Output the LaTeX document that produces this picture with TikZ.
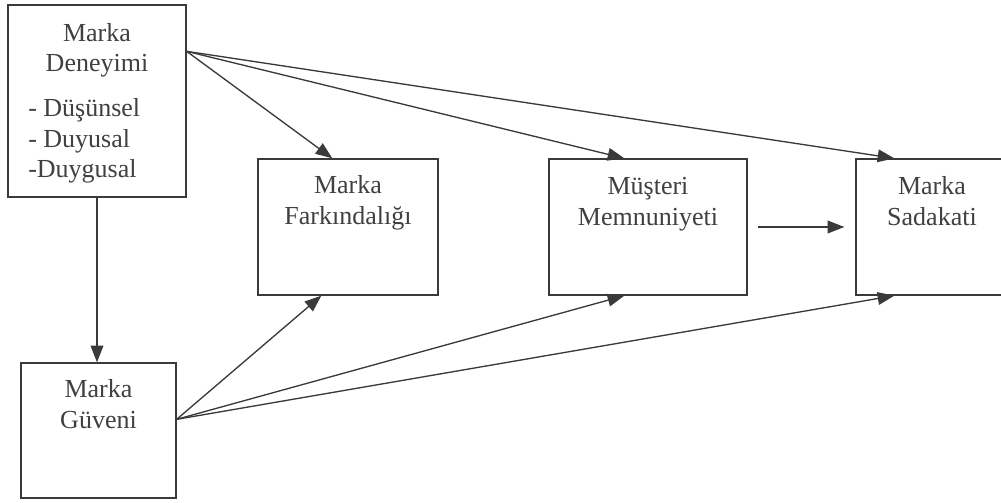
\documentclass[tikz,border=0pt]{standalone}
\usepackage{fontspec}
\setmainfont{Liberation Serif}
\usetikzlibrary{arrows.meta,calc}
\definecolor{ln}{HTML}{3A3A3A}
\definecolor{tx}{HTML}{404040}
\begin{document}
\begin{tikzpicture}[x=0.75pt,y=-0.75pt,
  box/.style={draw=ln, line width=1pt, inner sep=0pt},
  txt/.style={text=tx, align=center, inner sep=0pt, font=\fontsize{19.5pt}{23pt}\selectfont},
  arr/.style={draw=ln, line width=1pt, -{Triangle[length=12.5pt,width=9.5pt]}}]
\useasboundingbox[fill=white] (0,0) rectangle (1001,503);
\node[box, minimum width=133.5pt, minimum height=144pt] (den) at (97,101) {};
\node[box, minimum width=116.25pt, minimum height=101.25pt] (guv) at (98.5,430.5) {};
\node[box, minimum width=135pt, minimum height=102pt] (far) at (348,227) {};
\node[box, minimum width=148.5pt, minimum height=102pt] (mem) at (648,227) {};
\node[box, minimum width=115.5pt, minimum height=102pt] (sad) at (933,227) {};

\node[txt, anchor=base] (tden) at (97,72) {Marka\\Deneyimi};
\node[txt, align=left, anchor=base west] (lden) at (28,178) {- Düşünsel\\- Duyusal\\-Duygusal};
\node[txt, anchor=base] (tguv) at (98.5,428) {Marka\\Güveni};
\node[txt, anchor=base] (tfar) at (348,224) {Marka\\Farkındalığı};
\node[txt, anchor=base] (tmem) at (648,225) {Müşteri\\Memnuniyeti};
\node[txt, anchor=base] (tsad) at (932,225) {Marka\\Sadakati};

\coordinate (d0) at ($(den.north east)+(0,47)$);
\coordinate (g0) at ($(guv.north east)+(0,57)$);
\coordinate (farT) at ($(far.north west)+(75,0)$);
\coordinate (memT) at ($(mem.north west)+(76,0)$);
\coordinate (sadT) at ($(sad.north west)+(39,0)$);
\coordinate (farB) at ($(far.south west)+(64,0)$);
\coordinate (memB) at ($(mem.south west)+(76,0)$);
\coordinate (sadB) at ($(sad.south west)+(39,0)$);
\coordinate (m0) at ($(mem.east)+(10,0)$);
\coordinate (s0) at ($(sad.west)+(-11,0)$);

\draw[arr] (d0) -- (farT);
\draw[arr] (d0) -- (memT);
\draw[arr] (d0) -- (sadT);
\draw[arr] (den.south) -- (den.south |- guv.north);
\draw[arr] (g0) -- (farB);
\draw[arr] (g0) -- (memB);
\draw[arr] (g0) -- (sadB);
\draw[arr] (m0) -- (s0);
\end{tikzpicture}
\end{document}
